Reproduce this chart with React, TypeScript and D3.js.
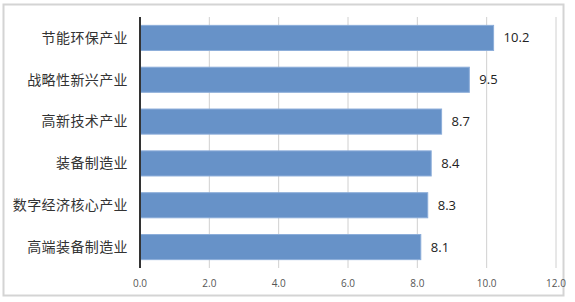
import React from "react";
import * as d3 from "d3";

const categories = ["节能环保产业", "战略性新兴产业", "高新技术产业", "装备制造业", "数字经济核心产业", "高端装备制造业"];
const values = [10.2, 9.5, 8.7, 8.4, 8.3, 8.1];
const ticks = [0, 2, 4, 6, 8, 10, 12];

export default function App() {
  const W = 575, H = 302;
  const x = d3.scaleLinear().domain([0, 12]).range([140, 556]);
  const y = d3.scaleBand<string>().domain(categories).range([17, 268]).paddingInner(0.4).paddingOuter(0.2);
  return (
    <svg width={W} height={H} style={{ position: "absolute", left: 0, top: 0 }}>
      <rect x={0} y={0} width={W} height={H} fill="#fff" />
      <rect x={3.5} y={4.5} width={560} height={291} fill="none" stroke="#d4d4d4" strokeWidth={2} />
      {ticks.slice(1).map((t) => (
        <line key={t} x1={x(t)} x2={x(t)} y1={17} y2={268} stroke="#d0d0d0" strokeWidth={1} />
      ))}
      {categories.map((c, i) => (
        <g key={c}>
          <rect x={x(0)} y={y(c)!} width={x(values[i]) - x(0)} height={y.bandwidth()} fill="#6792c8" stroke="#8cadd9" strokeWidth={1} />
          <text x={x(values[i]) + 10} y={y(c)! + y.bandwidth() / 2} dy="0.35em" fontFamily="'Open Sans', 'DejaVu Sans', sans-serif" fontSize={13} fill="#222">{values[i].toFixed(1)}</text>
          <text x={128} y={y(c)! + y.bandwidth() / 2} dy="0.35em" textAnchor="end" fontFamily="'Noto Sans CJK SC', sans-serif" fontSize={14} letterSpacing={0.4} fill="#333">{c}</text>
        </g>
      ))}
      <line x1={x(0)} x2={x(0)} y1={17} y2={268} stroke="#333" strokeWidth={2} />
      {ticks.map((t) => (
        <text key={t} x={x(t)} y={283} dy="0.35em" textAnchor="middle" fontFamily="'Open Sans', 'DejaVu Sans', sans-serif" fontSize={10} fill="#555">{t.toFixed(1)}</text>
      ))}
    </svg>
  );
}
